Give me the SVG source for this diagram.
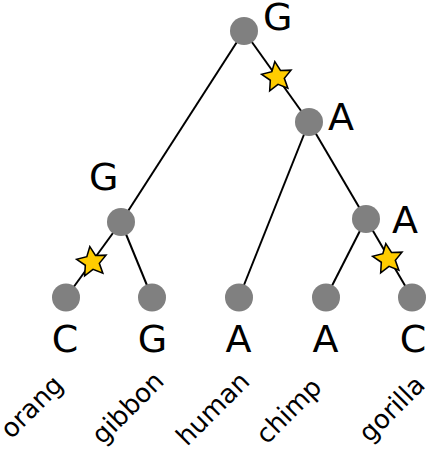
<svg xmlns="http://www.w3.org/2000/svg" width="429" height="450" viewBox="0 0 429 450">
<defs>
<style>
.edge{stroke:#000;stroke-width:2;fill:none}
.node{fill:#808080}
.lbl{font-family:"DejaVu Sans",sans-serif;font-size:38px;fill:#000}
.leaf{font-family:"DejaVu Sans",sans-serif;font-size:38px;fill:#000;text-anchor:middle}
.name{font-family:"DejaVu Sans",sans-serif;font-size:26px;fill:#000;text-anchor:middle}
.star{fill:#ffcc00;stroke:#000;stroke-width:1.3;stroke-linejoin:miter}
</style>
<path id="star" d="M-1.81,-12.87 L2.91,-5.47 L11.68,-5.70 L6.11,1.08 L9.03,9.35 L0.86,6.14 L-6.10,11.48 L-5.57,2.72 L-12.80,-2.26 L-4.31,-4.46 Z"/>
</defs>
<rect width="429" height="450" fill="#fff"/>
<g id="connectors">
<line class="edge" x1="244" y1="31" x2="121" y2="222"/>
<line class="edge" x1="244" y1="31" x2="309" y2="122"/>
<line class="edge" x1="309" y1="122" x2="239" y2="297.5"/>
<line class="edge" x1="309" y1="122" x2="366" y2="219"/>
<line class="edge" x1="121" y1="222" x2="66" y2="297.5"/>
<line class="edge" x1="121" y1="222" x2="152" y2="297.5"/>
<line class="edge" x1="366" y1="219" x2="326" y2="297.5"/>
<line class="edge" x1="366" y1="219" x2="412" y2="297.5"/>
</g>
<g id="mutations">
<use href="#star" class="star" transform="translate(277,77) scale(1.2)"/>
<use href="#star" class="star" transform="translate(92,262) scale(1.2)"/>
<use href="#star" class="star" transform="translate(388,259) scale(1.2)"/>
</g>
<g id="root"><circle class="node" cx="244" cy="31" r="14"/><text class="lbl" x="263" y="30">G</text></g>
<g id="ancA"><circle class="node" cx="309" cy="122" r="14"/><text class="lbl" x="328" y="130">A</text></g>
<g id="ancG"><circle class="node" cx="121" cy="222" r="14"/><text class="lbl" x="89" y="190">G</text></g>
<g id="ancA2"><circle class="node" cx="366" cy="219" r="14"/><text class="lbl" x="392" y="233">A</text></g>
<g id="orang"><circle class="node" cx="66" cy="297.5" r="14"/><text class="leaf" x="65" y="352">C</text><text class="name" transform="translate(38,413) rotate(-45)">orang</text></g>
<g id="gibbon"><circle class="node" cx="152" cy="297.5" r="14"/><text class="leaf" x="152.5" y="352">G</text><text class="name" transform="translate(134,414) rotate(-45)">gibbon</text></g>
<g id="human"><circle class="node" cx="239" cy="297.5" r="14"/><text class="leaf" x="238.5" y="352">A</text><text class="name" transform="translate(219,415) rotate(-45)">human</text></g>
<g id="chimp"><circle class="node" cx="326" cy="297.5" r="14"/><text class="leaf" x="325.5" y="352">A</text><text class="name" transform="translate(295,417) rotate(-45)">chimp</text></g>
<g id="gorilla"><circle class="node" cx="412" cy="297.5" r="14"/><text class="leaf" x="413" y="352">C</text><text class="name" transform="translate(398,415) rotate(-45)">gorilla</text></g>
</svg>
